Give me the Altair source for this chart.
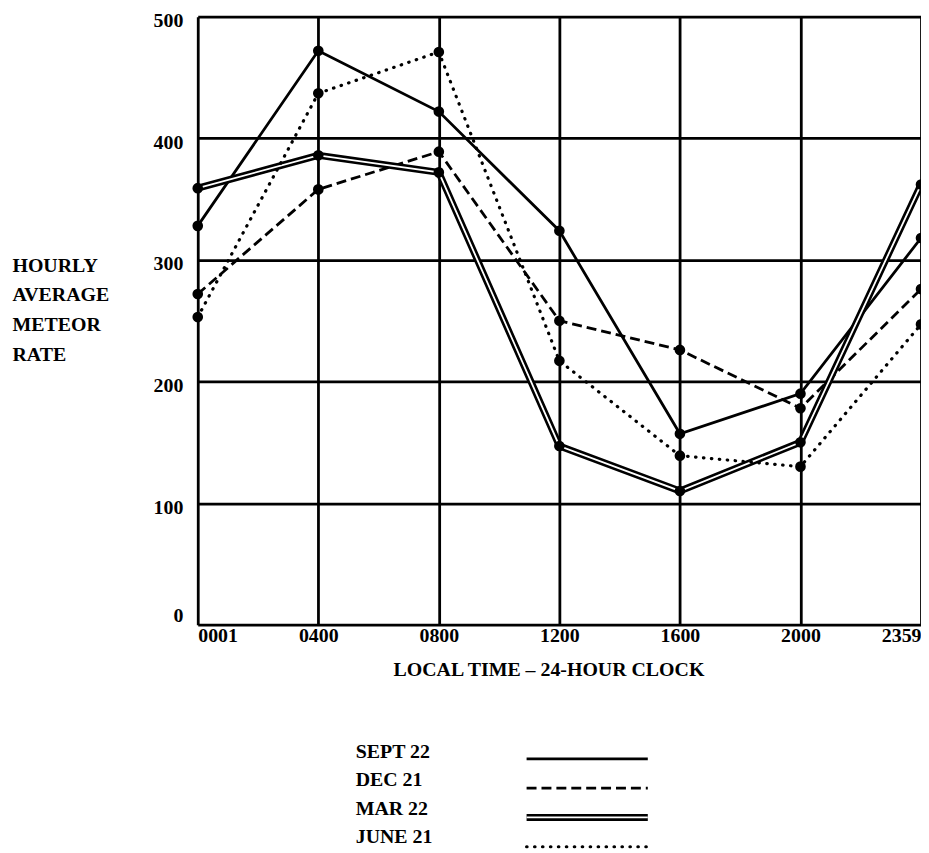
import altair as alt
import pandas as pd

# ---- data ----
times = ["0001", "0400", "0800", "1200", "1600", "2000", "2359"]
hours = [0, 4, 8, 12, 16, 20, 24]
series_names = ["SEPT 22", "DEC 21", "MAR 22", "JUNE 21"]
sept_22 = [328, 472, 422, 324, 157, 190, 318]
dec_21 = [272, 358, 389, 250, 226, 178, 276]
mar_22 = [359, 386, 372, 147, 110, 150, 362]
june_21 = [253, 437, 471, 217, 139, 130, 247]
y_ticks = [0, 100, 200, 300, 400, 500]
y_title = ["HOURLY", "AVERAGE", "METEOR", "RATE"]
x_title = "LOCAL TIME \u2013 24-HOUR CLOCK"

values = {"SEPT 22": sept_22, "DEC 21": dec_21, "MAR 22": mar_22, "JUNE 21": june_21}
rows = []
for name in series_names:
    for h, t, v in zip(hours, times, values[name]):
        rows.append({"series": name, "hour": h, "time": t, "rate": v})
df = pd.DataFrame(rows)

FONT = "Liberation Serif"
W, H = 728, 612

label_expr = "[" + ",".join(f"'{t}'" for t in times) + "][indexof([" + ",".join(str(h) for h in hours) + "], datum.value)]"

x_enc = alt.X(
    "hour:Q",
    scale=alt.Scale(domain=[0, 24], nice=False, zero=False),
    axis=alt.Axis(
        values=hours, labelExpr=label_expr, title=x_title,
        grid=True, gridColor="black", gridWidth=2.8, gridOpacity=1,
        domain=False, ticks=False, labelPadding=1, labelFlush=True,
        labelFont=FONT, labelFontSize=20, labelFontWeight="bold", labelColor="black",
        titleFont=FONT, titleFontSize=20, titleFontWeight="bold", titleColor="black",
        titleX=353, titleY=45, titleBaseline="middle",
    ),
)
y_enc = alt.Y(
    "rate:Q",
    scale=alt.Scale(domain=[0, 500], nice=False),
    axis=alt.Axis(
        values=y_ticks, title=y_title,
        grid=True, gridColor="black", gridWidth=2.8, gridOpacity=1,
        domain=False, ticks=False, labelPadding=15,
        labelOffset={"condition": {"test": "datum.value == 0", "value": -9}, "value": 4},
        labelFont=FONT, labelFontSize=20, labelFontWeight="bold", labelColor="black",
        titleFont=FONT, titleFontSize=20, titleFontWeight="bold", titleColor="black",
        titleAngle=0, titleAlign="left", titleBaseline="middle",
        titleX=-187, titleY=250, titleLineHeight=30,
    ),
)

base = alt.Chart(df).encode(x=x_enc, y=y_enc)

styles = {
    "SEPT 22": [dict(strokeWidth=2.8, color="black")],
    "DEC 21": [dict(strokeWidth=2.8, color="black", strokeDash=[10, 5])],
    "MAR 22": [dict(strokeWidth=7, color="black"), dict(strokeWidth=1.8, color="white")],
    "JUNE 21": [dict(strokeWidth=3.2, color="black", strokeDash=[0.5, 7.5], strokeCap="round")],
}

layers = []
for name in series_names:
    for st in styles[name]:
        layers.append(base.transform_filter(alt.datum.series == name).mark_line(**st))

layers.append(base.mark_point(filled=True, color="black", size=115, opacity=1))

# legend drawn below the plot
for i, name in enumerate(series_names):
    ldf = pd.DataFrame({"label": [name]})
    layers.append(
        alt.Chart(ldf).mark_text(align="left", baseline="middle", font=FONT, fontSize=20,
                                 fontWeight="bold", color="black")
        .encode(text="label:N", x=alt.value(159), y=alt.value(740 + i * 28.7))
    )
    for st in styles[name]:
        layers.append(
            alt.Chart(ldf).mark_rule(**st)
            .encode(x=alt.value(331), x2=alt.value(453), y=alt.value(747 + i * 29.5))
        )

chart = alt.layer(*layers).properties(
    width=W, height=H,
    autosize=alt.AutoSizeParams(type="none"),
    padding={"left": 191, "top": 6, "right": 0, "bottom": 227},
).configure_view(stroke="black", strokeWidth=3).configure(background="white")

chart.save("out.html", embed_options={"renderer": "svg", "actions": False})
